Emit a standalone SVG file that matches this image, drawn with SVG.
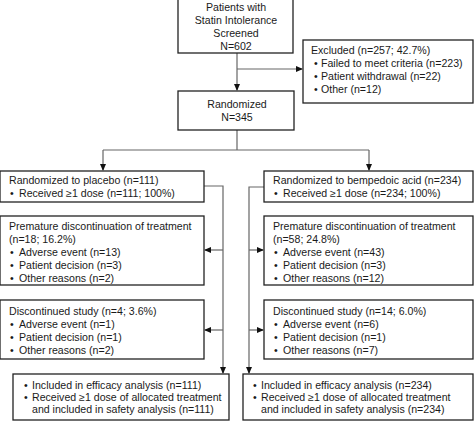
<svg xmlns="http://www.w3.org/2000/svg" width="474" height="422" viewBox="0 0 474 422">
<style>
.box{fill:#fff;stroke:#222;stroke-width:1.3}
.t{font-family:"Liberation Sans",Arial,sans-serif;font-size:10.6px;fill:#1a1a1a}
.c{text-anchor:middle}
.ln{fill:none;stroke:#666;stroke-width:1.2}
</style>
<defs>
<marker id="ar" markerWidth="7" markerHeight="6" refX="6" refY="3" orient="auto" markerUnits="userSpaceOnUse">
<path d="M0,0 L7,3 L0,6 Z" fill="#111"/>
</marker>
</defs>
<rect width="474" height="422" fill="#fff"/>
<g id="connectors">
<path class="ln" d="M237,53 V90" marker-end="url(#ar)"/>
<path class="ln" d="M237,69 H302" marker-end="url(#ar)"/>
<path class="ln" d="M237,130 V150 M103,150 H369"/>
<path class="ln" d="M103,150 V170" marker-end="url(#ar)"/>
<path class="ln" d="M369,150 V170" marker-end="url(#ar)"/>
<path class="ln" d="M204,186 H223 V373" marker-end="url(#ar)"/>
<path class="ln" d="M223,250 H205" marker-end="url(#ar)"/>
<path class="ln" d="M223,330 H205" marker-end="url(#ar)"/>
<path class="ln" d="M264,187 H249 V373" marker-end="url(#ar)"/>
<path class="ln" d="M249,250 H263" marker-end="url(#ar)"/>
<path class="ln" d="M249,330 H263" marker-end="url(#ar)"/>
</g>
<g id="screened">
<rect class="box" x="178" y="-1" width="115" height="54"/>
<text class="t c" x="236" y="11">Patients with</text>
<text class="t c" x="236" y="24">Statin Intolerance</text>
<text class="t c" x="236" y="37">Screened</text>
<text class="t c" x="236" y="50">N=602</text>
</g>
<g id="excluded">
<rect class="box" x="303" y="40" width="170" height="63"/>
<text class="t" x="311" y="54">Excluded (n=257; 42.7%)</text>
<text class="t" x="314" y="67">•</text><text class="t" x="321" y="67">Failed to meet criteria (n=223)</text>
<text class="t" x="314" y="80">•</text><text class="t" x="321" y="80">Patient withdrawal (n=22)</text>
<text class="t" x="314" y="93">•</text><text class="t" x="321" y="93">Other (n=12)</text>
</g>
<g id="randomized">
<rect class="box" x="178" y="91" width="116" height="39"/>
<text class="t c" x="237" y="108">Randomized</text>
<text class="t c" x="237" y="121">N=345</text>
</g>
<g id="placebo">
<rect class="box" x="0" y="171" width="204" height="31"/>
<text class="t" x="9" y="184">Randomized to placebo (n=111)</text>
<text class="t" x="10" y="197">•</text><text class="t" x="19" y="197">Received ≥1 dose (n=111; 100%)</text>
</g>
<g id="bempedoic">
<rect class="box" x="264" y="171" width="209" height="31"/>
<text class="t" x="273" y="184">Randomized to bempedoic acid (n=234)</text>
<text class="t" x="274" y="197">•</text><text class="t" x="283" y="197">Received ≥1 dose (n=234; 100%)</text>
</g>
<g id="premature-placebo">
<rect class="box" x="0" y="216" width="204" height="69"/>
<text class="t" x="9" y="230">Premature discontinuation of treatment</text>
<text class="t" x="9" y="243">(n=18; 16.2%)</text>
<text class="t" x="10" y="256">•</text><text class="t" x="19" y="256">Adverse event (n=13)</text>
<text class="t" x="10" y="269">•</text><text class="t" x="19" y="269">Patient decision (n=3)</text>
<text class="t" x="10" y="282">•</text><text class="t" x="19" y="282">Other reasons (n=2)</text>
</g>
<g id="premature-bempedoic">
<rect class="box" x="264" y="216" width="209" height="69"/>
<text class="t" x="273" y="230">Premature discontinuation of treatment</text>
<text class="t" x="273" y="243">(n=58; 24.8%)</text>
<text class="t" x="274" y="256">•</text><text class="t" x="283" y="256">Adverse event (n=43)</text>
<text class="t" x="274" y="269">•</text><text class="t" x="283" y="269">Patient decision (n=3)</text>
<text class="t" x="274" y="282">•</text><text class="t" x="283" y="282">Other reasons (n=12)</text>
</g>
<g id="discontinued-placebo">
<rect class="box" x="0" y="300" width="204" height="59"/>
<text class="t" x="9" y="315">Discontinued study (n=4; 3.6%)</text>
<text class="t" x="10" y="328">•</text><text class="t" x="19" y="328">Adverse event (n=1)</text>
<text class="t" x="10" y="341">•</text><text class="t" x="19" y="341">Patient decision (n=1)</text>
<text class="t" x="10" y="354">•</text><text class="t" x="19" y="354">Other reasons (n=2)</text>
</g>
<g id="discontinued-bempedoic">
<rect class="box" x="264" y="300" width="209" height="59"/>
<text class="t" x="273" y="315">Discontinued study (n=14; 6.0%)</text>
<text class="t" x="274" y="328">•</text><text class="t" x="283" y="328">Adverse event (n=6)</text>
<text class="t" x="274" y="341">•</text><text class="t" x="283" y="341">Patient decision (n=1)</text>
<text class="t" x="274" y="354">•</text><text class="t" x="283" y="354">Other reasons (n=7)</text>
</g>
<g id="analysis-placebo">
<rect class="box" x="13" y="374" width="216" height="46"/>
<text class="t" x="24" y="389">•</text><text class="t" x="32" y="389">Included in efficacy analysis (n=111)</text>
<text class="t" x="24" y="401">•</text><text class="t" x="32" y="401">Received ≥1 dose of allocated treatment</text>
<text class="t" x="32" y="413">and included in safety analysis (n=111)</text>
</g>
<g id="analysis-bempedoic">
<rect class="box" x="243" y="374" width="230" height="46"/>
<text class="t" x="253" y="389">•</text><text class="t" x="261" y="389">Included in efficacy analysis (n=234)</text>
<text class="t" x="253" y="401">•</text><text class="t" x="261" y="401">Received ≥1 dose of allocated treatment</text>
<text class="t" x="261" y="413">and included in safety analysis (n=234)</text>
</g>
</svg>
